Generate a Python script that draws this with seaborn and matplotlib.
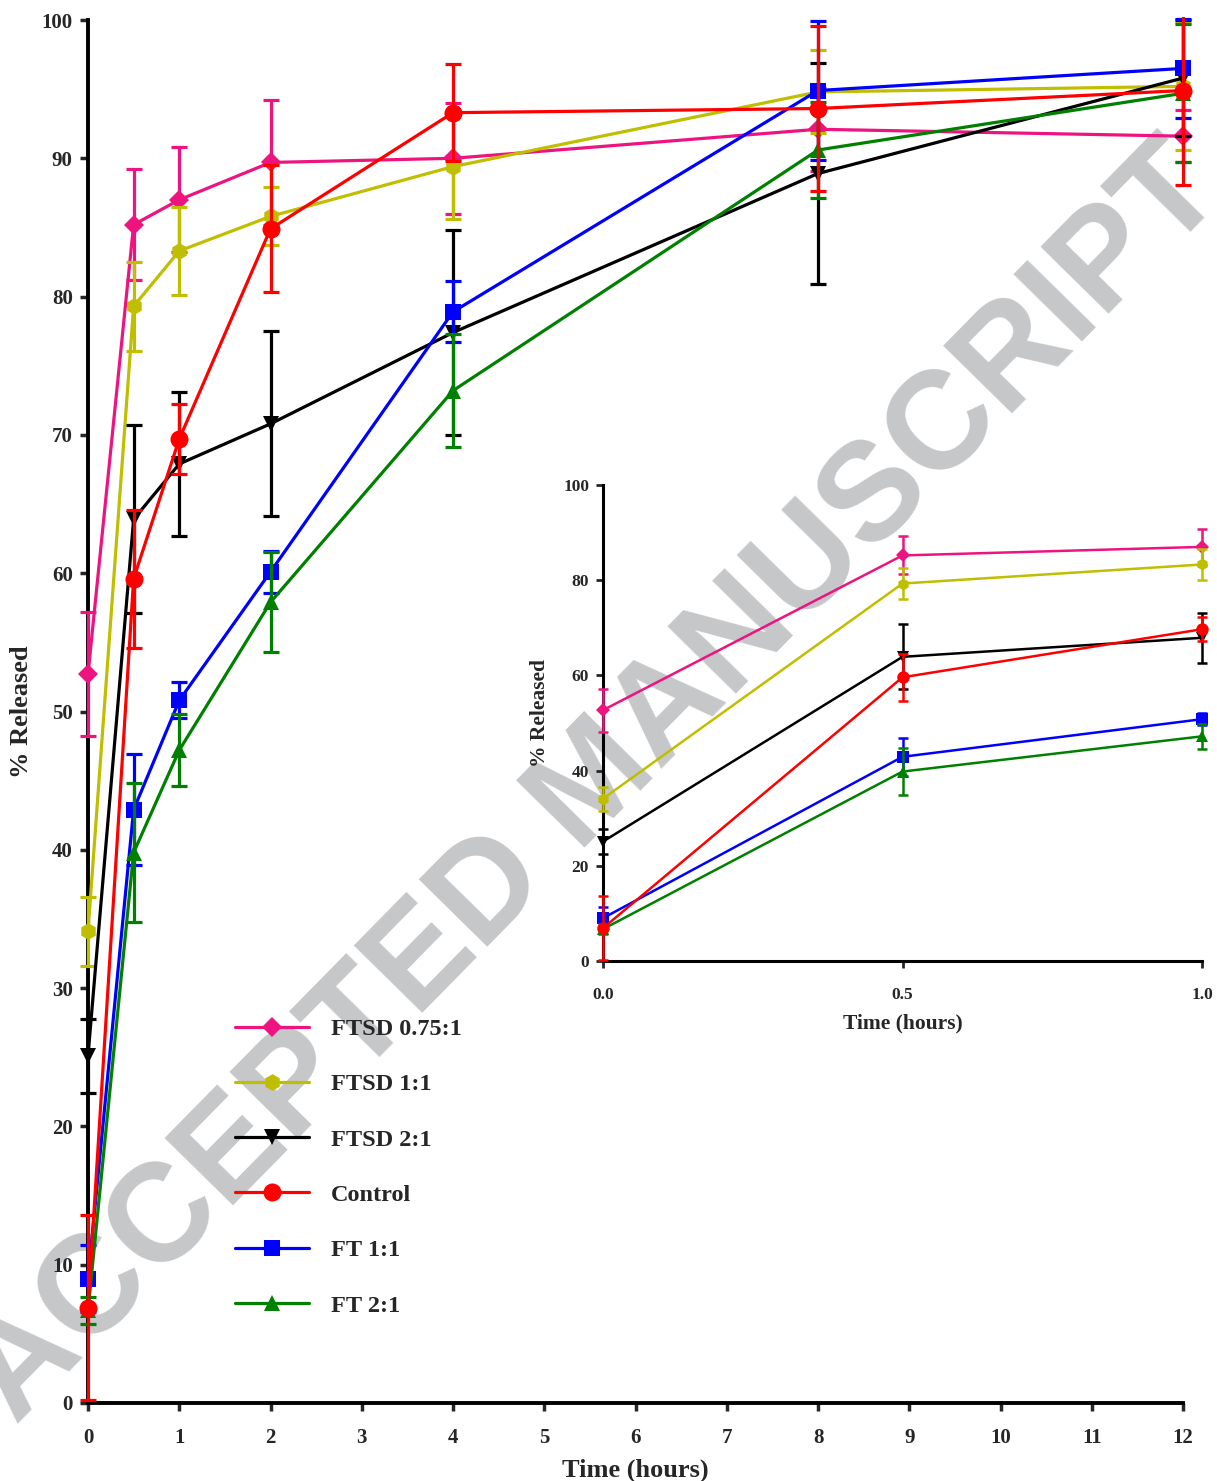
import numpy as np
import pandas as pd
import seaborn as sns
import matplotlib
matplotlib.use("Agg")
import matplotlib.pyplot as plt
from matplotlib.lines import Line2D
from matplotlib.patches import Rectangle

# ---------------- data ----------------
time_h = [0, 0.5, 1, 2, 4, 8, 12]

ftsd_075_mean = [52.7, 85.2, 87.0, 89.7, 90.0, 92.1, 91.6]
ftsd_075_sd = [4.5, 4.0, 3.8, 4.5, 4.0, 3.0, 1.9]

ftsd_11_mean = [34.1, 79.3, 83.3, 85.8, 89.4, 94.8, 95.2]
ftsd_11_sd = [2.5, 3.2, 3.2, 2.1, 3.8, 3.0, 4.6]

ftsd_21_mean = [25.1, 63.9, 67.9, 70.8, 77.4, 88.9, 95.8]
ftsd_21_sd = [2.7, 6.8, 5.2, 6.7, 7.4, 8.0, 4.2]

control_mean = [6.9, 59.6, 69.7, 84.9, 93.3, 93.6, 94.9]
control_sd = [6.7, 5.0, 2.5, 4.6, 3.5, 6.0, 6.8]

ft_11_mean = [9.0, 42.9, 50.8, 60.1, 78.9, 94.9, 96.5]
ft_11_sd = [2.4, 4.0, 1.3, 1.5, 2.2, 5.0, 3.6]

ft_21_mean = [6.7, 39.8, 47.2, 57.9, 73.2, 90.6, 94.7]
ft_21_sd = [1.0, 5.0, 2.6, 3.6, 4.1, 3.5, 5.0]

labels = ["FTSD 0.75:1", "FTSD 1:1", "FTSD 2:1", "Control", "FT 1:1", "FT 2:1"]
colors = ["#EE1480", "#C0BE00", "#000000", "#FF0000", "#0000FF", "#008000"]
markers = ["D", "h", "v", "o", "s", "^"]
main_msize = [10, 12, 12, 13, 12, 12]
inset_msize = [7, 8.5, 8.5, 9, 9, 8.5]
means = [ftsd_075_mean, ftsd_11_mean, ftsd_21_mean, control_mean, ft_11_mean, ft_21_mean]
sds = [ftsd_075_sd, ftsd_11_sd, ftsd_21_sd, control_sd, ft_11_sd, ft_21_sd]

main_xticks = list(range(0, 13))
main_yticks = list(range(0, 101, 10))
inset_xticks = [0.0, 0.5, 1.0]
inset_xticklabels = ["0.0", "0.5", "1.0"]
inset_yticks = list(range(0, 101, 20))

# draw order (red on top)
draw_order = [0, 1, 2, 4, 5, 3]

# ---------------- style ----------------
sns.set_theme(style="ticks")
serif = ["Liberation Serif", "DejaVu Serif"]
plt.rcParams["font.family"] = serif
plt.rcParams["font.weight"] = "bold"

frames = []
for lab, m, s in zip(labels, means, sds):
    frames.append(pd.DataFrame({"time": time_h, "released": m, "sd": s, "formulation": lab}))
df = pd.concat(frames, ignore_index=True)

fig = plt.figure(figsize=(12.17, 14.81), dpi=100)

# watermark
fig.text(0.49, 0.47, "ACCEPTED MANUSCRIPT", rotation=45.5, rotation_mode="anchor",
         ha="center", va="center", fontsize=100, fontweight="bold",
         family=["Liberation Sans", "DejaVu Sans"], color="#C6C7C9", zorder=-5)

ax = fig.add_axes([88 / 1217, 1 - 1403 / 1481, (1183 - 88) / 1217, (1403 - 20) / 1481])
ax.set_facecolor("none")


def draw(axis, sub, lw, ms, capsize, elw, cutoff=None):
    clip_rect = Rectangle((-0.05, -0.02), 1.1, 1.022, transform=axis.transAxes,
                          facecolor="none", edgecolor="none")
    for i in draw_order:
        d = sub[sub["formulation"] == labels[i]]
        if cutoff is not None:
            d = d[d["time"] <= cutoff]
        k = draw_order.index(i)
        cont = axis.errorbar(d["time"], d["released"], yerr=d["sd"], fmt="none",
                             ecolor=colors[i], elinewidth=elw, capsize=capsize, capthick=elw,
                             zorder=3 + k * 0.1)
        for art in list(cont.lines[1]) + list(cont.lines[2]):
            art.set_clip_path(clip_rect)
        sns.lineplot(data=d, x="time", y="released", ax=axis, color=colors[i],
                     marker=markers[i], markersize=ms[i], markeredgewidth=0,
                     linewidth=lw, legend=False, errorbar=None, sort=False, clip_on=False,
                     zorder=3.05 + k * 0.1)


draw(ax, df, 2.3, main_msize, 5.5, 2.3)

ax.set_xlim(0, 12)
ax.set_ylim(0, 100)
ax.set_xticks(main_xticks)
ax.set_yticks(main_yticks)
ax.tick_params(axis="both", direction="out", length=6, width=2.5, labelsize=15)
ax.tick_params(axis="x", pad=12)
ax.tick_params(axis="y", pad=5)
for lab in ax.get_xticklabels() + ax.get_yticklabels():
    lab.set_fontweight("bold")
for sp in ["top", "right"]:
    ax.spines[sp].set_visible(False)
for sp in ["left", "bottom"]:
    ax.spines[sp].set_linewidth(2.8)
    ax.spines[sp].set_color("black")
    ax.spines[sp].set_zorder(2)
ax.set_xlabel("Time (hours)", fontsize=19, fontweight="bold")
ax.set_ylabel("% Released", fontsize=19, fontweight="bold")
ax.xaxis.set_label_coords(0.5, -(1470 - 1403) / 1383, transform=ax.transAxes)
ax.yaxis.set_label_coords(-(88 - 22) / 1095, 0.5, transform=ax.transAxes)
ax.xaxis.label.set_va("center")
ax.yaxis.label.set_va("center")

# legend
handles = [Line2D([0], [0], color=c, marker=mk, markersize=ms, markeredgewidth=0, linewidth=2.3)
           for c, mk, ms in zip(colors, markers, main_msize)]
fig.legend(handles, labels, loc="upper left", bbox_to_anchor=(235 / 1217, 1 - 1018 / 1481),
           frameon=False, handlelength=3.05, handletextpad=0.9,
           labelspacing=1.37, borderpad=0, borderaxespad=0,
           prop={"family": serif, "weight": "bold", "size": 17.5})

# inset
axin = fig.add_axes([603 / 1217, 1 - 961 / 1481, (1202 - 603) / 1217, (961 - 485) / 1481])
axin.set_facecolor("none")
draw(axin, df, 1.8, inset_msize, 3.8, 1.8, cutoff=1.0)
axin.set_xlim(0, 1.0)
axin.set_ylim(0, 100)
axin.set_xticks(inset_xticks)
axin.set_xticklabels(inset_xticklabels)
axin.set_yticks(inset_yticks)
axin.tick_params(axis="both", direction="out", length=5, width=2, labelsize=12.5)
axin.tick_params(axis="x", pad=14)
axin.tick_params(axis="y", pad=5)
for lab in axin.get_xticklabels() + axin.get_yticklabels():
    lab.set_fontweight("bold")
for sp in ["top", "right"]:
    axin.spines[sp].set_visible(False)
for sp in ["left", "bottom"]:
    axin.spines[sp].set_linewidth(2.2)
    axin.spines[sp].set_color("black")
    axin.spines[sp].set_zorder(2)
axin.set_xlabel("Time (hours)", fontsize=15.5, fontweight="bold")
axin.set_ylabel("% Released", fontsize=15.5, fontweight="bold")
axin.xaxis.set_label_coords(0.5, -(1023 - 961) / 476, transform=axin.transAxes)
axin.yaxis.set_label_coords(-(603 - 540) / 599, 0.52, transform=axin.transAxes)
axin.xaxis.label.set_va("center")
axin.yaxis.label.set_va("center")

fig.savefig("out.png", dpi=100)
